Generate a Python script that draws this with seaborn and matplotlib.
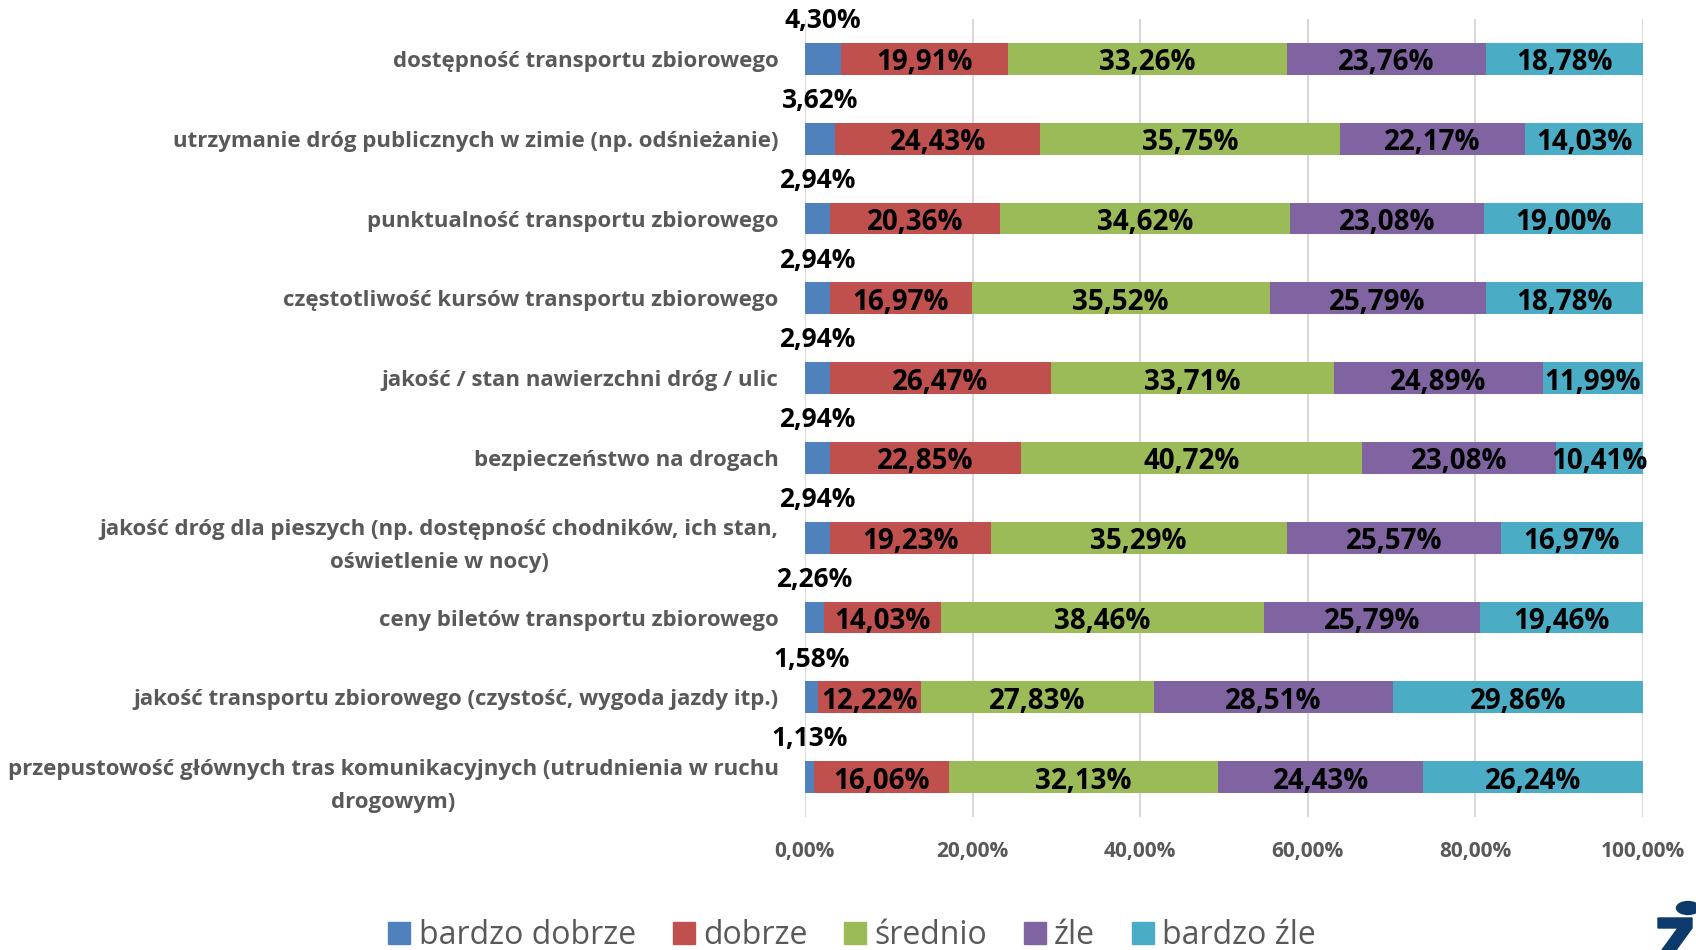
import numpy as np
import pandas as pd
import seaborn as sns
import matplotlib.pyplot as plt
from matplotlib.patches import Circle, Polygon
from matplotlib.lines import Line2D

# --- dane ---
categories = [
    'dostępność transportu zbiorowego',
    'utrzymanie dróg publicznych w zimie (np. odśnieżanie)',
    'punktualność transportu zbiorowego',
    'częstotliwość kursów transportu zbiorowego',
    'jakość / stan nawierzchni dróg / ulic',
    'bezpieczeństwo na drogach',
    'jakość dróg dla pieszych (np. dostępność chodników, ich stan,\noświetlenie w nocy)',
    'ceny biletów transportu zbiorowego',
    'jakość transportu zbiorowego (czystość, wygoda jazdy itp.)',
    'przepustowość głównych tras komunikacyjnych (utrudnienia w ruchu\ndrogowym)',
]
bardzo_dobrze = [4.30, 3.62, 2.94, 2.94, 2.94, 2.94, 2.94, 2.26, 1.58, 1.13]
dobrze = [19.91, 24.43, 20.36, 16.97, 26.47, 22.85, 19.23, 14.03, 12.22, 16.06]
srednio = [33.26, 35.75, 34.62, 35.52, 33.71, 40.72, 35.29, 38.46, 27.83, 32.13]
zle = [23.76, 22.17, 23.08, 25.79, 24.89, 23.08, 25.57, 25.79, 28.51, 24.43]
bardzo_zle = [18.78, 14.03, 19.00, 18.78, 11.99, 10.41, 16.97, 19.46, 29.86, 26.24]

series_names = ['bardzo dobrze', 'dobrze', 'średnio', 'źle', 'bardzo źle']
colors = ['#4F81BD', '#C0504D', '#9BBB59', '#8064A2', '#4BACC6']
x_ticks = [0, 20, 40, 60, 80, 100]

df = pd.DataFrame({'kategoria': categories, 'bardzo dobrze': bardzo_dobrze, 'dobrze': dobrze,
                   'średnio': srednio, 'źle': zle, 'bardzo źle': bardzo_zle})
cum = df[series_names].cumsum(axis=1)

sns.set_style('white')
plt.rcParams['font.family'] = ['Open Sans', 'DejaVu Sans']

fig = plt.figure(figsize=(16.96, 9.5), dpi=100)
ax = fig.add_axes([0.4746, 0.14, 0.4942, 0.84])

# skumulowane słupki - rysowane od najdłuższego
for name, col in zip(series_names[::-1], colors[::-1]):
    sns.barplot(x=cum[name].clip(upper=100), y=df['kategoria'], color=col, orient='h',
                width=0.4, ax=ax, saturation=1, edgecolor='none', zorder=3)

# etykiety
for i in range(len(categories)):
    left = 0
    for j, name in enumerate(series_names):
        v = df[name].iloc[i]
        lab = f'{v:.2f}%'.replace('.', ',')
        xc = left + v / 2
        if j == 0:
            ax.text(xc, i - 0.31, lab, ha='center', va='bottom', fontsize=19,
                    fontweight='bold', color='black', zorder=5)
        else:
            ax.text(xc, i + 0.05, lab, ha='center', va='center', fontsize=20,
                    fontweight='bold', color='black', zorder=5)
        left += v

ax.set_xlim(0, 100)
ax.set_ylim(9.5, -0.5)
ax.set_xticks(x_ticks)
ax.set_xticklabels([f'{t:.2f}%'.replace('.', ',') for t in x_ticks], fontsize=15,
                   fontweight='bold', color='#595959')
ax.tick_params(axis='x', pad=17, length=0)
ax.tick_params(axis='y', pad=19, length=0)
for lbl in ax.get_yticklabels():
    lbl.set_fontsize(16)
    lbl.set_fontweight('bold')
    lbl.set_color('#595959')
    lbl.set_multialignment('center')
    lbl.set_linespacing(1.75)
ax.set_xlabel('')
ax.set_ylabel('')
ax.grid(axis='x', color='#D9D9D9', linewidth=1.5, zorder=0)
for s in ax.spines.values():
    s.set_visible(False)

handles = [Line2D([0], [0], marker='s', color='w', markerfacecolor=c, markeredgecolor=c,
                  markersize=16, label=n) for n, c in zip(series_names, colors)]
leg = fig.legend(handles=handles, loc='center', bbox_to_anchor=(0.501, 0.015), ncol=5,
                 frameon=False, fontsize=23, handletextpad=0.1, columnspacing=1.0,
                 handlelength=1.0)
for t in leg.get_texts():
    t.set_color('#595959')

# logo w rogu
logo = '#0B3A6B'
fig.patches.append(Circle((1688 / 1696, 1 - 908 / 950), 0.0068, transform=fig.transFigure,
                          color=logo, figure=fig))
fig.patches.append(Polygon([(1658 / 1696, 1 - 918 / 950), (1692 / 1696, 1 - 918 / 950),
                            (1692 / 1696, 1 - 928 / 950), (1676 / 1696, 1 - 950 / 950),
                            (1662 / 1696, 1 - 950 / 950), (1678 / 1696, 1 - 928 / 950),
                            (1658 / 1696, 1 - 928 / 950)],
                           closed=True, transform=fig.transFigure, color=logo, figure=fig))

fig.savefig('out.png', dpi=100)
